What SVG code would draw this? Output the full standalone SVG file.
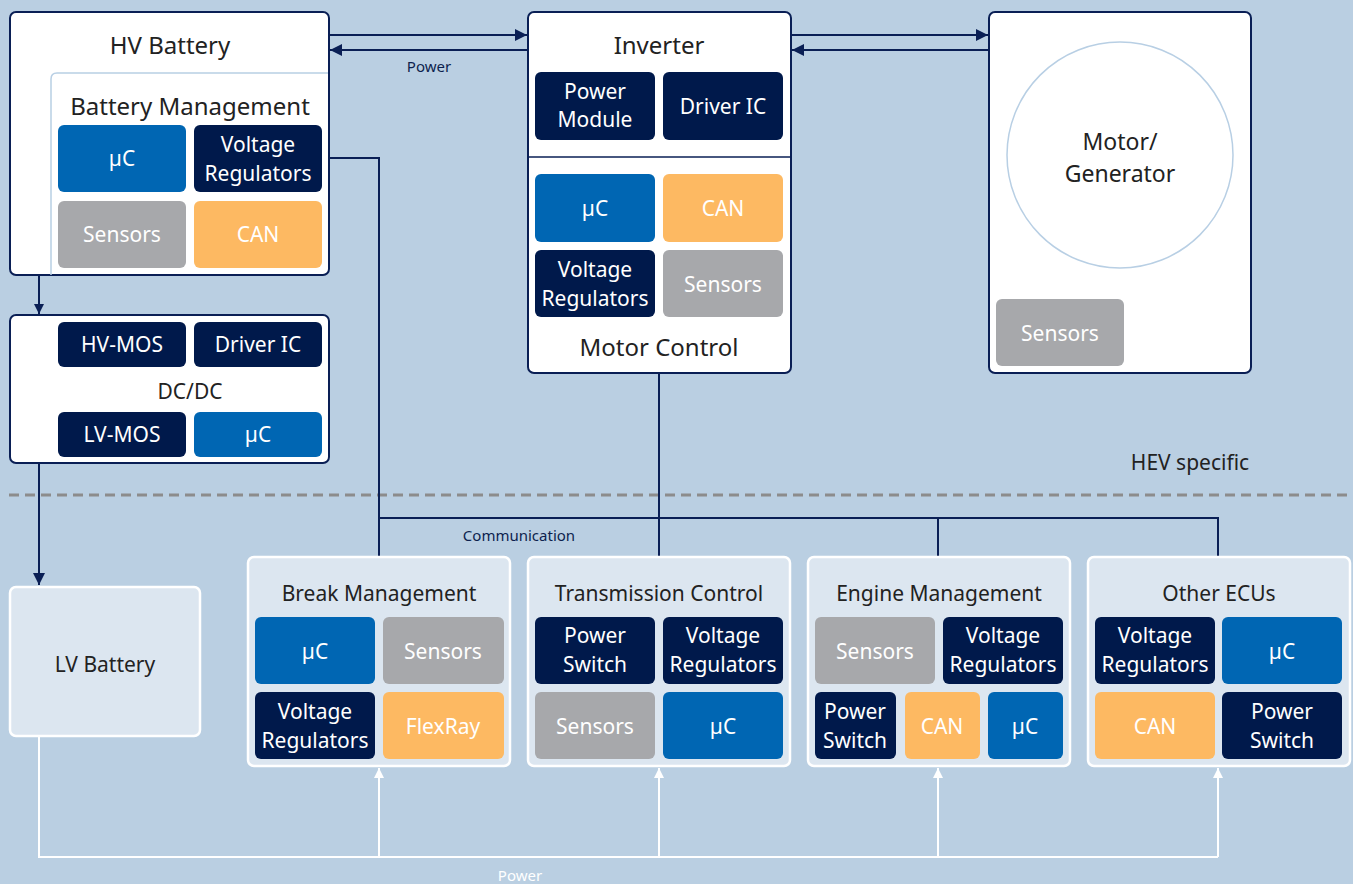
<svg xmlns="http://www.w3.org/2000/svg" width="1353" height="884" viewBox="0 0 1353 884">
<style>
text{font-family:"Noto Sans","Open Sans","Liberation Sans",sans-serif;text-anchor:middle;dominant-baseline:central}
.big{font-size:24px;fill:#222}
.mid{font-size:21px;fill:#222}
.lbl{font-size:15px;fill:#0d1f4e}
.ct{font-size:21px;fill:#fff}
.box{fill:#fff;stroke:#0a1f55;stroke-width:2}
.ecu{fill:#dce6f0;stroke:#fff;stroke-width:2.5}
.nav{fill:#00194b}
.blu{fill:#0066b3}
.gry{fill:#a7a8ab}
.org{fill:#fdb962}
.con{fill:none;stroke:#0a1f55;stroke-width:2}
.pwr{fill:none;stroke:#fff;stroke-width:2}
</style>
<defs>
<marker id="ah" viewBox="0 0 10 10" refX="10" refY="5" markerWidth="10" markerHeight="10" markerUnits="userSpaceOnUse" orient="auto"><path d="M0,0 L10,5 L0,10 z" fill="#0a1f55"/></marker>
<marker id="ahw" viewBox="0 0 10 10" refX="10" refY="5" markerWidth="10" markerHeight="10" markerUnits="userSpaceOnUse" orient="auto"><path d="M0,0 L10,5 L0,10 z" fill="#fff"/></marker>
<marker id="ahs" viewBox="0 0 12 12" refX="12" refY="6" markerWidth="12" markerHeight="12" markerUnits="userSpaceOnUse" orient="auto"><path d="M0,0 L12,6 L0,12 z" fill="#0a1f55"/></marker>
</defs>
<rect width="1353" height="884" fill="#bacfe2"/>
<line x1="9" y1="495" x2="1353" y2="495" stroke="#8c8c8c" stroke-width="3" stroke-dasharray="10 6"/>
<text x="1190" y="462" class="mid">HEV specific</text>

<g id="connectors">
<line class="con" x1="329" y1="35" x2="527" y2="35" marker-end="url(#ahs)"/>
<line class="con" x1="527" y1="50" x2="330" y2="50" marker-end="url(#ahs)"/>
<line class="con" x1="791" y1="35" x2="988" y2="35" marker-end="url(#ahs)"/>
<line class="con" x1="988" y1="50" x2="792" y2="50" marker-end="url(#ahs)"/>
<text x="429" y="66" class="lbl">Power</text>
<line class="con" x1="39" y1="275" x2="39" y2="314" marker-end="url(#ah)"/>
<line class="con" x1="39" y1="463" x2="39" y2="585" marker-end="url(#ahs)"/>
<path class="con" d="M329,158 H379 V556"/>
<line class="con" x1="659" y1="373" x2="659" y2="556"/>
<path class="con" d="M379,518 H1218 V556"/>
<line class="con" x1="938" y1="518" x2="938" y2="556"/>
<text x="519" y="535" class="lbl">Communication</text>
<path class="pwr" d="M39,736 V857 H1218"/>
<line class="pwr" x1="379" y1="857" x2="379" y2="768" marker-end="url(#ahw)"/>
<line class="pwr" x1="659" y1="857" x2="659" y2="768" marker-end="url(#ahw)"/>
<line class="pwr" x1="938" y1="857" x2="938" y2="768" marker-end="url(#ahw)"/>
<line class="pwr" x1="1218" y1="857" x2="1218" y2="768" marker-end="url(#ahw)"/>
<text x="520" y="875" class="lbl" style="fill:#fff">Power</text>
</g>

<g id="hv-battery">
<rect class="box" x="10" y="12" width="319" height="263" rx="6"/>
<path d="M51,275 V79 Q51,73 57,73 H328" fill="none" stroke="#b8cfe4" stroke-width="1.5"/>
<text x="170" y="44" class="big">HV Battery</text>
<text x="190" y="105" class="big">Battery Management</text>
<rect class="blu" x="58" y="125" width="128" height="67" rx="6"/>
<text x="122" y="158" class="ct">µC</text>
<rect class="nav" x="194" y="125" width="128" height="67" rx="6"/>
<text x="258" y="144" class="ct">Voltage</text><text x="258" y="173" class="ct">Regulators</text>
<rect class="gry" x="58" y="201" width="128" height="67" rx="6"/>
<text x="122" y="234" class="ct">Sensors</text>
<rect class="org" x="194" y="201" width="128" height="67" rx="6"/>
<text x="258" y="234" class="ct">CAN</text>
</g>

<g id="dcdc">
<rect class="box" x="10" y="315" width="319" height="148" rx="6"/>
<rect class="nav" x="58" y="322" width="128" height="45" rx="6"/>
<text x="122" y="344" class="ct">HV-MOS</text>
<rect class="nav" x="194" y="322" width="128" height="45" rx="6"/>
<text x="258" y="344" class="ct">Driver IC</text>
<text x="190" y="391" class="mid">DC/DC</text>
<rect class="nav" x="58" y="412" width="128" height="45" rx="6"/>
<text x="122" y="434" class="ct">LV-MOS</text>
<rect class="blu" x="194" y="412" width="128" height="45" rx="6"/>
<text x="258" y="434" class="ct">µC</text>
</g>

<g id="inverter">
<rect class="box" x="528" y="12" width="263" height="361" rx="6"/>
<line x1="528" y1="157" x2="791" y2="157" stroke="#0a1f55" stroke-width="1.5"/>
<text x="659" y="44" class="big">Inverter</text>
<rect class="nav" x="535" y="72" width="120" height="68" rx="6"/>
<text x="595" y="91" class="ct">Power</text><text x="595" y="119" class="ct">Module</text>
<rect class="nav" x="663" y="72" width="120" height="68" rx="6"/>
<text x="723" y="106" class="ct">Driver IC</text>
<rect class="blu" x="535" y="174" width="120" height="68" rx="6"/>
<text x="595" y="208" class="ct">µC</text>
<rect class="org" x="663" y="174" width="120" height="68" rx="6"/>
<text x="723" y="208" class="ct">CAN</text>
<rect class="nav" x="535" y="250" width="120" height="67" rx="6"/>
<text x="595" y="269" class="ct">Voltage</text><text x="595" y="298" class="ct">Regulators</text>
<rect class="gry" x="663" y="250" width="120" height="67" rx="6"/>
<text x="723" y="284" class="ct">Sensors</text>
<text x="659" y="346" class="big">Motor Control</text>
</g>

<g id="motor-generator">
<rect class="box" x="989" y="12" width="262" height="361" rx="6"/>
<circle cx="1120" cy="155" r="113" fill="#fff" stroke="#b8cfe4" stroke-width="1.5"/>
<text x="1120" y="141" class="big" style="font-size:23px">Motor/</text>
<text x="1120" y="173" class="big" style="font-size:23px">Generator</text>
<rect class="gry" x="996" y="299" width="128" height="67" rx="6"/>
<text x="1060" y="333" class="ct">Sensors</text>
</g>

<g id="lv-battery">
<rect class="ecu" x="10" y="587" width="190" height="149" rx="6"/>
<text x="105" y="664" class="mid">LV Battery</text>
</g>

<g id="break-management">
<rect class="ecu" x="248" y="557" width="262" height="209" rx="6"/>
<text x="379" y="593" class="mid">Break Management</text>
<rect class="blu" x="255" y="617" width="120" height="67" rx="6"/>
<text x="315" y="651" class="ct">µC</text>
<rect class="gry" x="383" y="617" width="121" height="67" rx="6"/>
<text x="443" y="651" class="ct">Sensors</text>
<rect class="nav" x="255" y="692" width="120" height="67" rx="6"/>
<text x="315" y="711" class="ct">Voltage</text><text x="315" y="740" class="ct">Regulators</text>
<rect class="org" x="383" y="692" width="121" height="67" rx="6"/>
<text x="443" y="726" class="ct">FlexRay</text>
</g>

<g id="transmission-control">
<rect class="ecu" x="528" y="557" width="262" height="209" rx="6"/>
<text x="659" y="593" class="mid">Transmission Control</text>
<rect class="nav" x="535" y="617" width="120" height="67" rx="6"/>
<text x="595" y="635" class="ct">Power</text><text x="595" y="664" class="ct">Switch</text>
<rect class="nav" x="663" y="617" width="120" height="67" rx="6"/>
<text x="723" y="635" class="ct">Voltage</text><text x="723" y="664" class="ct">Regulators</text>
<rect class="gry" x="535" y="692" width="120" height="67" rx="6"/>
<text x="595" y="726" class="ct">Sensors</text>
<rect class="blu" x="663" y="692" width="120" height="67" rx="6"/>
<text x="723" y="726" class="ct">µC</text>
</g>

<g id="engine-management">
<rect class="ecu" x="808" y="557" width="262" height="209" rx="6"/>
<text x="939" y="593" class="mid">Engine Management</text>
<rect class="gry" x="815" y="617" width="120" height="67" rx="6"/>
<text x="875" y="651" class="ct">Sensors</text>
<rect class="nav" x="943" y="617" width="120" height="67" rx="6"/>
<text x="1003" y="635" class="ct">Voltage</text><text x="1003" y="664" class="ct">Regulators</text>
<rect class="nav" x="815" y="692" width="81" height="67" rx="6"/>
<text x="855" y="711" class="ct">Power</text><text x="855" y="740" class="ct">Switch</text>
<rect class="org" x="905" y="692" width="75" height="67" rx="6"/>
<text x="942" y="726" class="ct">CAN</text>
<rect class="blu" x="988" y="692" width="75" height="67" rx="6"/>
<text x="1025" y="726" class="ct">µC</text>
</g>

<g id="other-ecus">
<rect class="ecu" x="1088" y="557" width="262" height="209" rx="6"/>
<text x="1219" y="593" class="mid">Other ECUs</text>
<rect class="nav" x="1095" y="617" width="120" height="67" rx="6"/>
<text x="1155" y="635" class="ct">Voltage</text><text x="1155" y="664" class="ct">Regulators</text>
<rect class="blu" x="1222" y="617" width="120" height="67" rx="6"/>
<text x="1282" y="651" class="ct">µC</text>
<rect class="org" x="1095" y="692" width="120" height="67" rx="6"/>
<text x="1155" y="726" class="ct">CAN</text>
<rect class="nav" x="1222" y="692" width="120" height="67" rx="6"/>
<text x="1282" y="711" class="ct">Power</text><text x="1282" y="740" class="ct">Switch</text>
</g>
</svg>
